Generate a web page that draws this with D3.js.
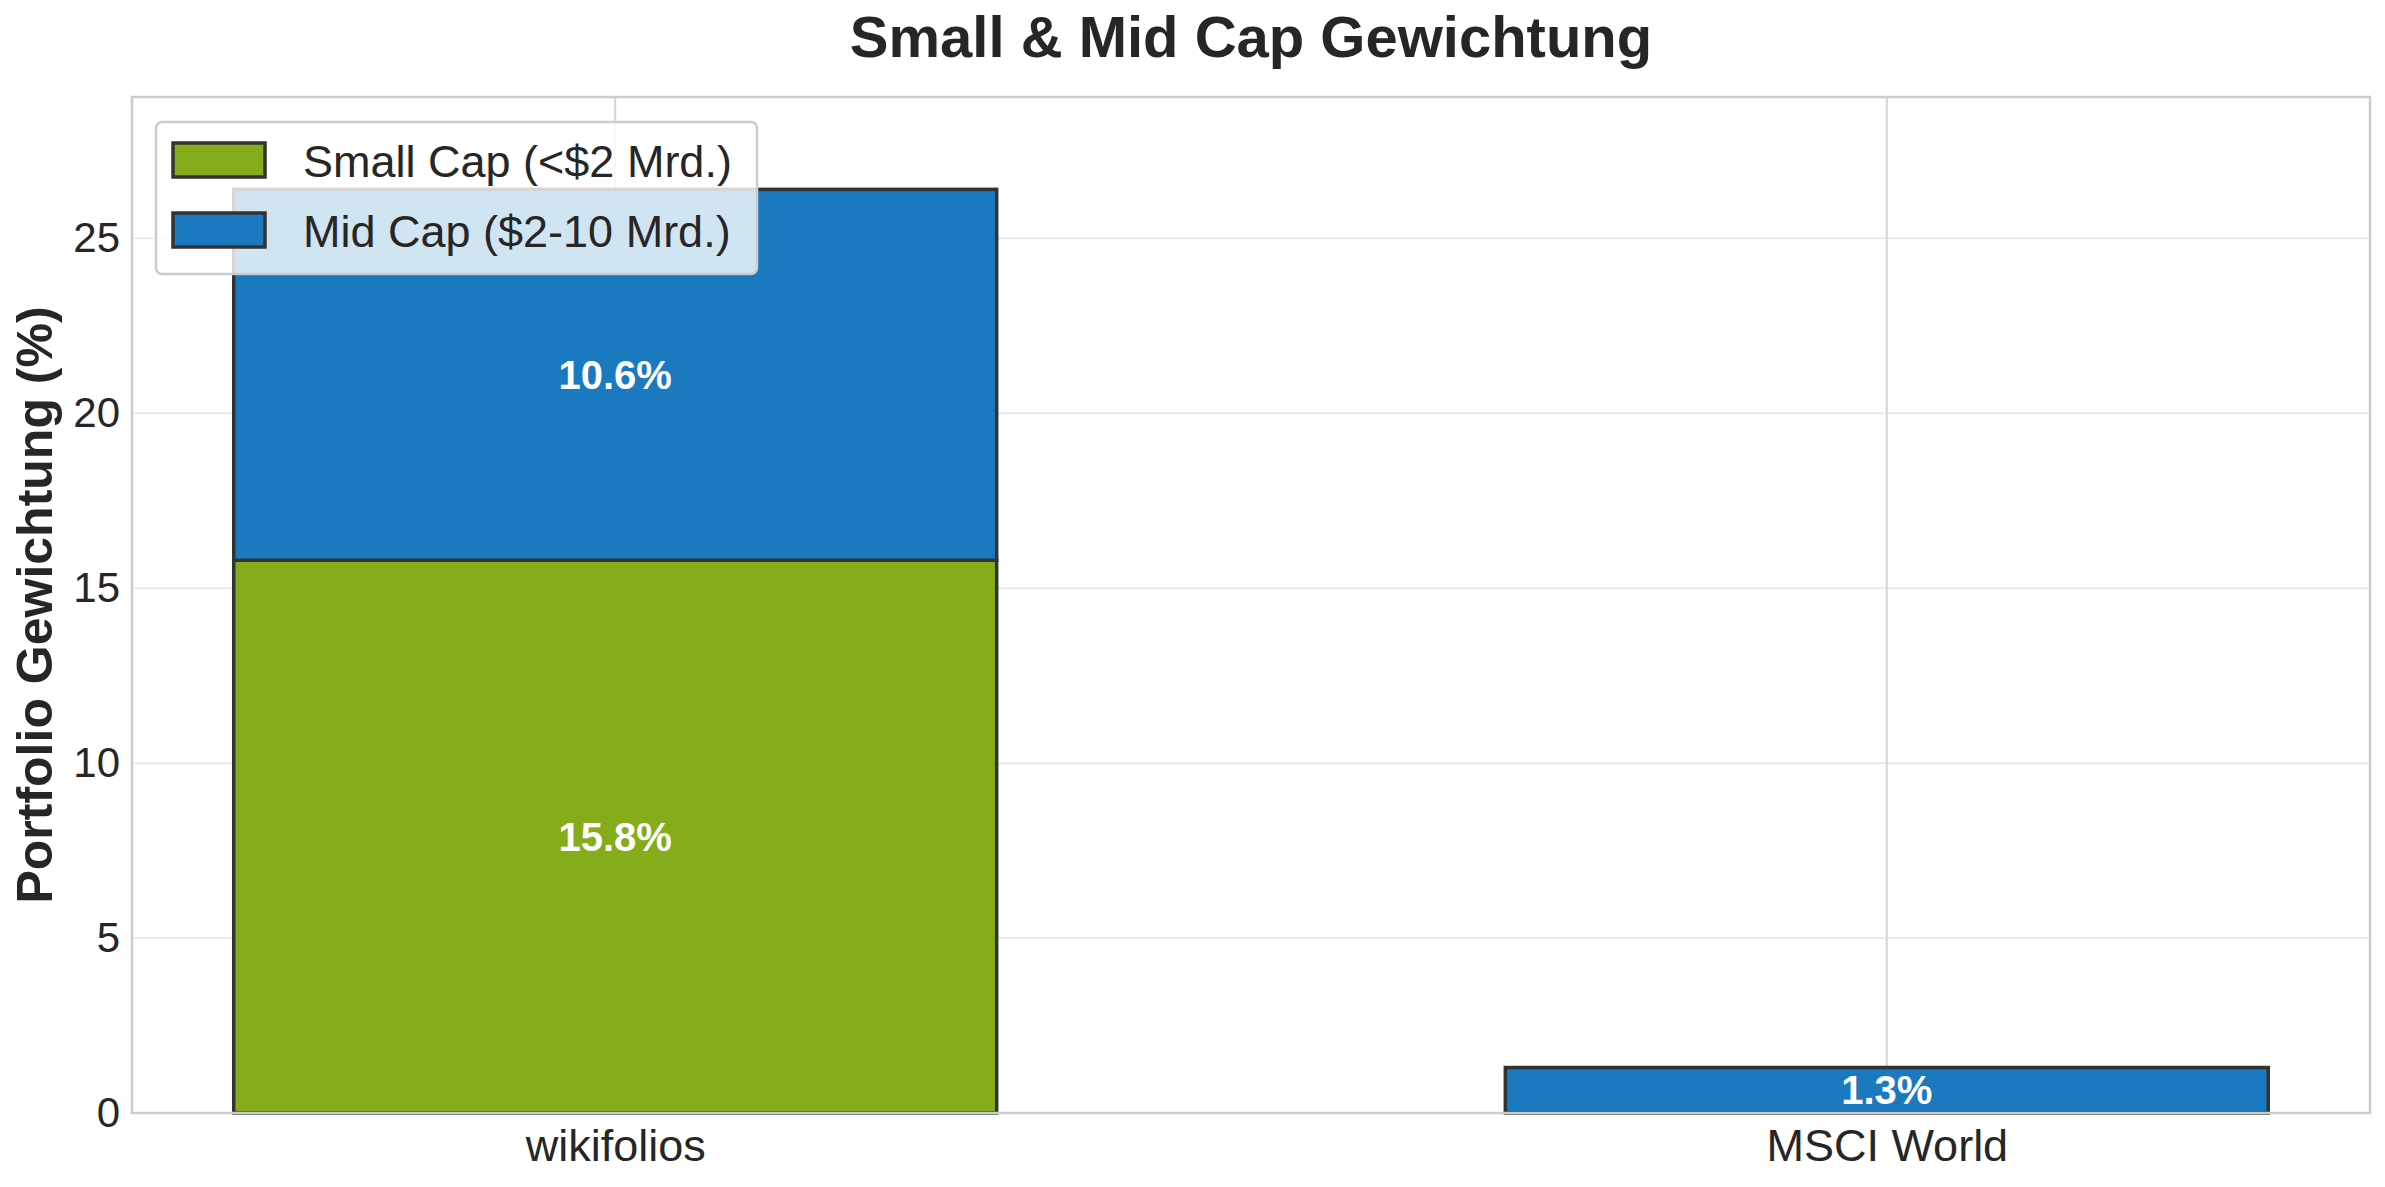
<!DOCTYPE html>
<html><head><meta charset="utf-8">
<script src="https://cdn.jsdelivr.net/npm/d3@7"></script>
<style>
html,body{margin:0;padding:0;background:#fff;}
svg{display:block;font-family:"Liberation Sans",Arial,sans-serif;}
</style></head>
<body>
<svg id="chart" width="2385" height="1187"></svg>
<script>
const categories = ["wikifolios", "MSCI World"];
const smallCap = [15.8, 0];
const midCap = [10.6, 1.3];
const seriesNames = ["Small Cap (<$2 Mrd.)", "Mid Cap ($2-10 Mrd.)"];
const seriesColors = ["#85ad1b", "#1a79bf"];
const yTicks = [0, 5, 10, 15, 20, 25];
const title = "Small & Mid Cap Gewichtung";
const yLabel = "Portfolio Gewichtung (%)";

const svg = d3.select("#chart");
const L = 132, R = 2370, T = 97, B = 1113;
const barW = 0.6;
const idx = categories.map((d, i) => i);
const x = d3.scaleLinear().domain([-0.38, idx.length - 1 + 0.38]).range([L, R]);
const totals = idx.map(i => smallCap[i] + midCap[i]);
const y = d3.scaleLinear().domain([0, d3.max(totals) * 1.1]).range([B, T]);

// grid
const g = svg.append("g");
g.selectAll("line.hg").data(yTicks).join("line")
  .attr("x1", L).attr("x2", R).attr("y1", d => y(d)).attr("y2", d => y(d))
  .attr("stroke", "#ebebeb").attr("stroke-width", 2);
g.selectAll("line.vg").data(idx).join("line")
  .attr("x1", d => x(d)).attr("x2", d => x(d)).attr("y1", T).attr("y2", B)
  .attr("stroke", "#d6d6d6").attr("stroke-width", 2);

// bars
const stacks = [
  idx.map(i => ({i, y0: 0, y1: smallCap[i], v: smallCap[i], s: 0})),
  idx.map(i => ({i, y0: smallCap[i], y1: smallCap[i] + midCap[i], v: midCap[i], s: 1}))
];
stacks.forEach((layer, s) => {
  svg.append("g").selectAll("rect").data(layer.filter(d => d.v > 0)).join("rect")
    .attr("x", d => x(d.i - barW / 2)).attr("width", d => x(d.i + barW / 2) - x(d.i - barW / 2))
    .attr("y", d => y(d.y1)).attr("height", d => y(d.y0) - y(d.y1))
    .attr("fill", seriesColors[s]).attr("stroke", "#333").attr("stroke-width", 3.5);
});
stacks.forEach((layer, s) => {
  svg.append("g").selectAll("text").data(layer.filter(d => d.v > 0)).join("text")
    .attr("x", d => x(d.i)).attr("y", d => y((d.y0 + d.y1) / 2))
    .attr("text-anchor", "middle").attr("dominant-baseline", "central")
    .attr("fill", "#fff").attr("font-weight", "bold").attr("font-size", 40)
    .text(d => d.v.toFixed(1) + "%");
});

// spines
svg.append("rect").attr("x", L).attr("y", T).attr("width", R - L).attr("height", B - T)
  .attr("fill", "none").attr("stroke", "#cccccc").attr("stroke-width", 2.5);

// axes
const ya = svg.append("g").attr("transform", `translate(${L},0)`)
  .call(d3.axisLeft(y).tickValues(yTicks).tickSize(0).tickPadding(12).tickFormat(d3.format("d")));
ya.select(".domain").remove();
ya.selectAll("text").attr("font-size", 42).attr("fill", "#262626").attr("font-family", "Liberation Sans, Arial, sans-serif");

const xa = svg.append("g").attr("transform", `translate(0,${B})`)
  .call(d3.axisBottom(x).tickValues(idx).tickSize(0).tickPadding(16).tickFormat(i => categories[i]));
xa.select(".domain").remove();
xa.selectAll("text").attr("font-size", 45).attr("fill", "#262626").attr("font-family", "Liberation Sans, Arial, sans-serif");

// title
svg.append("text").attr("x", (L + R) / 2).attr("y", 57).attr("text-anchor", "middle")
  .attr("font-size", 58).attr("font-weight", "bold").attr("fill", "#262626").text(title);

// y label
svg.append("text").attr("transform", `translate(52,${(T + B) / 2}) rotate(-90)`)
  .attr("text-anchor", "middle").attr("font-size", 50).attr("font-weight", "bold")
  .attr("fill", "#262626").text(yLabel);

// legend
const lg = svg.append("g");
lg.append("rect").attr("x", 156).attr("y", 122).attr("width", 601).attr("height", 152)
  .attr("rx", 6).attr("fill", "#fff").attr("fill-opacity", 0.8)
  .attr("stroke", "#cccccc").attr("stroke-width", 2.5);
seriesNames.forEach((n, k) => {
  const yy = 143 + k * 70;
  lg.append("rect").attr("x", 173).attr("y", yy).attr("width", 92).attr("height", 34)
    .attr("fill", seriesColors[k]).attr("stroke", "#333").attr("stroke-width", 3.5);
  lg.append("text").attr("x", 303).attr("y", yy + 34).attr("font-size", 45)
    .attr("fill", "#262626").text(n);
});
</script>
</body></html>
